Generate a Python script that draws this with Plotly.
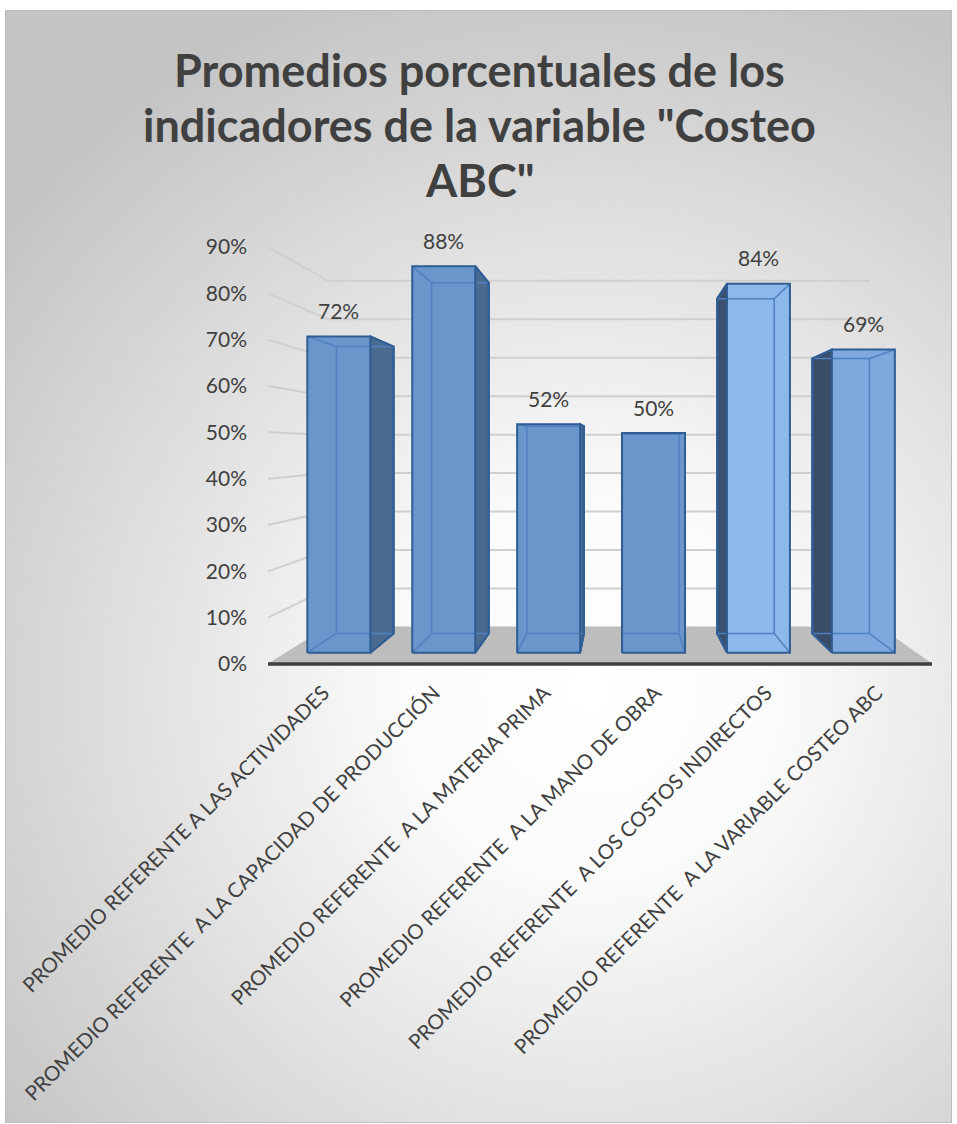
import base64
import plotly.graph_objects as go

# ---- data -------------------------------------------------------------
categories = [
    "PROMEDIO REFERENTE A LAS ACTIVIDADES",
    "PROMEDIO REFERENTE\u00a0 A LA CAPACIDAD DE PRODUCCIÓN",
    "PROMEDIO REFERENTE\u00a0 A LA MATERIA PRIMA",
    "PROMEDIO REFERENTE\u00a0 A LA MANO DE OBRA",
    "PROMEDIO REFERENTE\u00a0 A LOS COSTOS INDIRECTOS",
    "PROMEDIO REFERENTE\u00a0 A LA VARIABLE COSTEO ABC",
]
values = [0.72, 0.88, 0.52, 0.50, 0.84, 0.69]
y_ticks = [0.0, 0.1, 0.2, 0.3, 0.4, 0.5, 0.6, 0.7, 0.8, 0.9]
title_lines = ["Promedios porcentuales de los",
               "indicadores de la variable \"Costeo",
               "ABC\""]

# ---- styling ----------------------------------------------------------
face_colors = ["#6b96cc", "#6b96cc", "#6b96cc", "#6b96cc", "#8db8ec", "#7ea8de"]
side_colors = ["#4b6a8f", "#4b6a8f", "#4b6a8f", "#4b6a8f", "#3b5170", "#3a4d66"]
edge_color = "#2f5e95"
inner_color = "#4f80c0"
text_color = "#404040"
FONT = "Lato"

W, H = 957, 1124

# front plane of the 3-D box in page pixels
FX0, FX1 = 268, 932          # x = -0.5 .. 5.5
FY0, FY9 = 664, 247          # value 0 .. 0.9
# plot area in page pixels (slightly larger than the front plane)
PX0, PX1 = 258, 942
PY0, PY1 = 190, 676

n = len(categories)
ux = n / (FX1 - FX0)          # category units per pixel
uv = 0.9 / (FY0 - FY9)        # value units per pixel
x_range = [-0.5 - (FX0 - PX0) * ux, n - 0.5 + (PX1 - FX1) * ux]
y_range = [-(PY1 - FY0) * uv, (FY0 - PY0) * uv]

# perspective: vanishing point and depth scale factors
VX = -0.5 + (621 - FX0) * ux
VY = (FY0 - 446) * uv
S_FRONT_BAR, S_BACK_BAR, S_WALL = 0.948, 0.86, 0.83
HALF_W = 0.30


def proj(x, v, s):
    return VX + s * (x - VX), VY + s * (v - VY)


def poly(points, s):
    xs, ys = zip(*[proj(x, v, s) for x, v in points])
    return list(xs) + [xs[0]], list(ys) + [ys[0]]


fig = go.Figure()

# wall gridlines (side wall + back wall)
gx, gy = [], []
for t in y_ticks[1:]:
    for x, s in [(-0.5, 1.0), (-0.5, S_WALL), (n - 0.6, S_WALL)]:
        px, py = proj(x, t, s)
        gx.append(px)
        gy.append(py)
    gx.append(None)
    gy.append(None)
fig.add_trace(go.Scatter(x=gx, y=gy, mode="lines",
                         line=dict(color="#cfcfcf", width=2),
                         hoverinfo="skip", showlegend=False))

# floor
fx, fy = [], []
for x, s in [(-0.5, 1.0), (n - 0.5, 1.0), (n - 0.5, S_WALL), (-0.5, S_WALL)]:
    px, py = proj(x, 0, s)
    fx.append(px)
    fy.append(py)
fig.add_trace(go.Scatter(x=fx + [fx[0]], y=fy + [fy[0]], fill="toself",
                         fillcolor="#bdbdbd", mode="lines",
                         line=dict(color="#bdbdbd", width=1),
                         hoverinfo="skip", showlegend=False))
fig.add_trace(go.Scatter(x=[fx[0], fx[1]], y=[fy[0], fy[1]], mode="lines",
                         line=dict(color="#3f3f3f", width=3.5),
                         hoverinfo="skip", showlegend=False))

# bars
for i, val in enumerate(values):
    xl, xr = i - HALF_W, i + HALF_W
    sf, sb = S_FRONT_BAR, S_BACK_BAR

    # side face
    if xr < VX:
        xs_side = xr
    elif xl > VX:
        xs_side = xl
    else:
        xs_side = None
    if xs_side is not None:
        pts = [proj(xs_side, 0, sf), proj(xs_side, val, sf),
               proj(xs_side, val, sb), proj(xs_side, 0, sb)]
        sx, sy = zip(*pts)
        fig.add_trace(go.Scatter(x=list(sx) + [sx[0]], y=list(sy) + [sy[0]],
                                 fill="toself", fillcolor=side_colors[i],
                                 mode="lines", line=dict(color=edge_color, width=2),
                                 hoverinfo="skip", showlegend=False))

    # top face (only seen when the top is below eye level)
    if val < VY:
        pts = [proj(xl, val, sf), proj(xr, val, sf),
               proj(xr, val, sb), proj(xl, val, sb)]
        tx, ty = zip(*pts)
        fig.add_trace(go.Scatter(x=list(tx) + [tx[0]], y=list(ty) + [ty[0]],
                                 fill="toself", fillcolor=face_colors[i],
                                 mode="lines", line=dict(color=edge_color, width=2),
                                 hoverinfo="skip", showlegend=False))

    # front face
    px_, py_ = poly([(xl, 0), (xr, 0), (xr, val), (xl, val)], sf)
    fig.add_trace(go.Scatter(x=px_, y=py_, fill="toself",
                             fillcolor=face_colors[i], mode="lines",
                             line=dict(color=face_colors[i], width=0.5),
                             hoverinfo="skip", showlegend=False))

    # hidden edges seen through the translucent front face
    ix, iy = [], []
    for a, b in [((xl, 0), (xr, 0)), ((xr, 0), (xr, val)),
                 ((xr, val), (xl, val)), ((xl, val), (xl, 0))]:
        for x, v in (a, b):
            p = proj(x, v, sb)
            ix.append(p[0])
            iy.append(p[1])
        ix.append(None)
        iy.append(None)
    for x, v in [(xl, 0), (xr, 0), (xr, val), (xl, val)]:
        for s in (sf, sb):
            p = proj(x, v, s)
            ix.append(p[0])
            iy.append(p[1])
        ix.append(None)
        iy.append(None)
    fig.add_trace(go.Scatter(x=ix, y=iy, mode="lines",
                             line=dict(color=inner_color, width=1.5),
                             hoverinfo="skip", showlegend=False))

    # outline of front face
    fig.add_trace(go.Scatter(x=px_, y=py_, mode="lines",
                             line=dict(color=edge_color, width=2),
                             hoverinfo="skip", showlegend=False))
    if xs_side is not None:
        pts = [proj(xs_side, val, sf), proj(xs_side, val, sb),
               proj(xs_side, 0, sb), proj(xs_side, 0, sf)]
        ox, oy = zip(*pts)
        fig.add_trace(go.Scatter(x=list(ox), y=list(oy), mode="lines",
                                 line=dict(color=edge_color, width=2),
                                 hoverinfo="skip", showlegend=False))

    # value label
    lx, ly = proj(i, val, sf)
    fig.add_annotation(x=lx, y=ly, xref="x", yref="y", text=f"{round(val * 100)}%",
                       showarrow=False, yanchor="middle", yshift=26,
                       font=dict(family=FONT, size=21, color=text_color))

# title
for k, line in enumerate(title_lines):
    fig.add_annotation(x=480 / W, y=1 - (70 + 55 * k) / H, xref="paper", yref="paper",
                       text=f"<b>{line}</b>", showarrow=False,
                       xanchor="center", yanchor="middle",
                       font=dict(family=FONT, size=45, color=text_color))

# chart area background: radial grey gradient inside a thin frame
svg = f"""<svg xmlns='http://www.w3.org/2000/svg' width='{W}' height='{H}' viewBox='0 0 {W} {H}'>
<defs><radialGradient id='g' gradientUnits='userSpaceOnUse' cx='590' cy='690' r='740'>
<stop offset='0' stop-color='#ffffff'/><stop offset='0.25' stop-color='#fbfbfb'/>
<stop offset='1' stop-color='#c4c4c4'/></radialGradient></defs>
<rect x='0' y='0' width='{W}' height='{H}' fill='#ffffff'/>
<rect x='5.5' y='10.5' width='946' height='1112' fill='url(#g)' stroke='#bdbdbd' stroke-width='1'/>
</svg>"""
src = "data:image/svg+xml;base64," + base64.b64encode(svg.encode()).decode()

fig.update_layout(
    width=W, height=H,
    margin=dict(l=0, r=0, t=0, b=0, autoexpand=False),
    paper_bgcolor="white",
    plot_bgcolor="rgba(0,0,0,0)",
    showlegend=False,
    images=[dict(source=src, xref="paper", yref="paper", x=0, y=1,
                 sizex=1, sizey=1, sizing="stretch", layer="below",
                 xanchor="left", yanchor="top")],
    xaxis=dict(domain=[PX0 / W, PX1 / W], range=x_range, automargin=False,
               tickmode="array", tickvals=list(range(n)), ticktext=categories,
               tickangle=-45, showgrid=False, zeroline=False, showline=False,
               ticks="", tickfont=dict(family=FONT, size=20.5, color=text_color)),
    yaxis=dict(domain=[1 - PY1 / H, 1 - PY0 / H], range=y_range, automargin=False,
               tickmode="array", tickvals=y_ticks, tickformat=".0%",
               showgrid=False, zeroline=False, showline=False, ticks="",
               ticklabelstandoff=10,
               tickfont=dict(family=FONT, size=21, color=text_color)),
)

fig.write_html("out.html")
